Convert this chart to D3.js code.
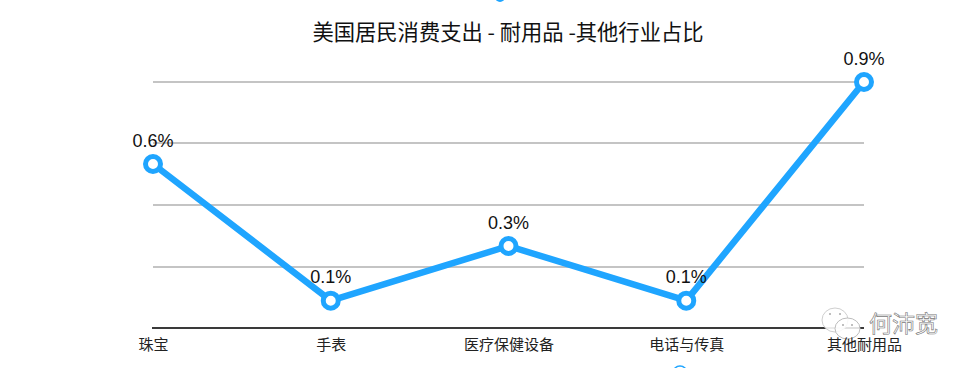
<!DOCTYPE html>
<html><head><meta charset="utf-8">
<script src="https://cdn.jsdelivr.net/npm/d3@7"></script>
<style>html,body{margin:0;padding:0;background:#fff}svg{display:block}</style>
</head><body><svg id="c" width="970" height="368"></svg>
<script>
const title = "美国居民消费支出 - 耐用品 -其他行业占比";
const categories = ["珠宝","手表","医疗保健设备","电话与传真","其他耐用品"];
const values = [0.6,0.1,0.3,0.1,0.9];
const labels = ["0.6%","0.1%","0.3%","0.1%","0.9%"];
const gridTicks = [0.222,0.45,0.676,0.9];
const watermark = "何沛宽";
const cjk = "'Noto Sans CJK SC','Noto Sans',sans-serif";
const latin = "'Liberation Sans',Arial,sans-serif";
const svg = d3.select("#c");
const x = d3.scalePoint().domain(categories).range([153,864]);
const y = d3.scaleLinear().domain([0,0.9]).range([328,82]);

svg.append("circle").attr("cx",500).attr("cy",-3).attr("r",5).attr("fill","#1fa5ff");
svg.append("circle").attr("cx",680).attr("cy",373).attr("r",7).attr("fill","#fff").attr("stroke","#1fa5ff").attr("stroke-width",1.5);

svg.append("text").attr("x",508).attr("y",40).attr("text-anchor","middle")
  .attr("font-family",cjk).attr("font-size",21.3).attr("fill","#111").text(title);

svg.append("g").selectAll("line").data(gridTicks).join("line")
  .attr("x1",153).attr("x2",864).attr("y1",d=>Math.round(y(d))).attr("y2",d=>Math.round(y(d)))
  .attr("stroke","#c4c4c4").attr("stroke-width",2);

const ag = svg.append("g").attr("transform","translate(0,328)");
ag.append("line").attr("x1",152).attr("x2",864).attr("stroke","#3a3a3a").attr("stroke-width",2);

// watermark sits over the axis line, under the tick labels
const wm = svg.append("g");
wm.append("ellipse").attr("cx",835).attr("cy",320).attr("rx",13).attr("ry",12)
  .attr("fill","#fff").attr("fill-opacity",.9).attr("stroke","#cfcfcf");
wm.append("ellipse").attr("cx",847.5).attr("cy",328.5).attr("rx",12.5).attr("ry",10.5)
  .attr("fill","#fff").attr("fill-opacity",.85).attr("stroke","#bdbdbd");
[[830,314],[840,314],[843,325],[852,325]].forEach(p=>wm.append("circle").attr("cx",p[0]).attr("cy",p[1]).attr("r",1).attr("fill","#aaa"));
wm.append("text").attr("x",869).attr("y",332).attr("font-family",cjk).attr("font-size",23)
  .attr("fill","#fff").attr("stroke","#777").attr("stroke-width",.6).text(watermark);

const axis = d3.axisBottom(x).tickSize(0).tickPadding(12);
const tg = svg.append("g").attr("transform","translate(0,327)").call(axis);
tg.select(".domain").remove();
tg.selectAll("text").attr("font-family",cjk).attr("font-size",15).attr("fill","#222");

const line = d3.line().x((d,i)=>x(categories[i])).y(d=>y(d));
svg.append("path").datum(values).attr("d",line).attr("fill","none")
  .attr("stroke","#1fa5ff").attr("stroke-width",6.5).attr("stroke-linejoin","round");
svg.append("g").selectAll("circle").data(values).join("circle")
  .attr("cx",(d,i)=>x(categories[i])).attr("cy",d=>y(d)).attr("r",7.5)
  .attr("fill","#fff").attr("stroke","#1fa5ff").attr("stroke-width",5);
svg.append("g").selectAll("text").data(values).join("text")
  .attr("x",(d,i)=>x(categories[i])).attr("y",d=>y(d)-17.5).attr("text-anchor","middle")
  .attr("font-family",latin).attr("font-size",18).attr("fill","#111").text((d,i)=>labels[i]);
</script></body></html>
